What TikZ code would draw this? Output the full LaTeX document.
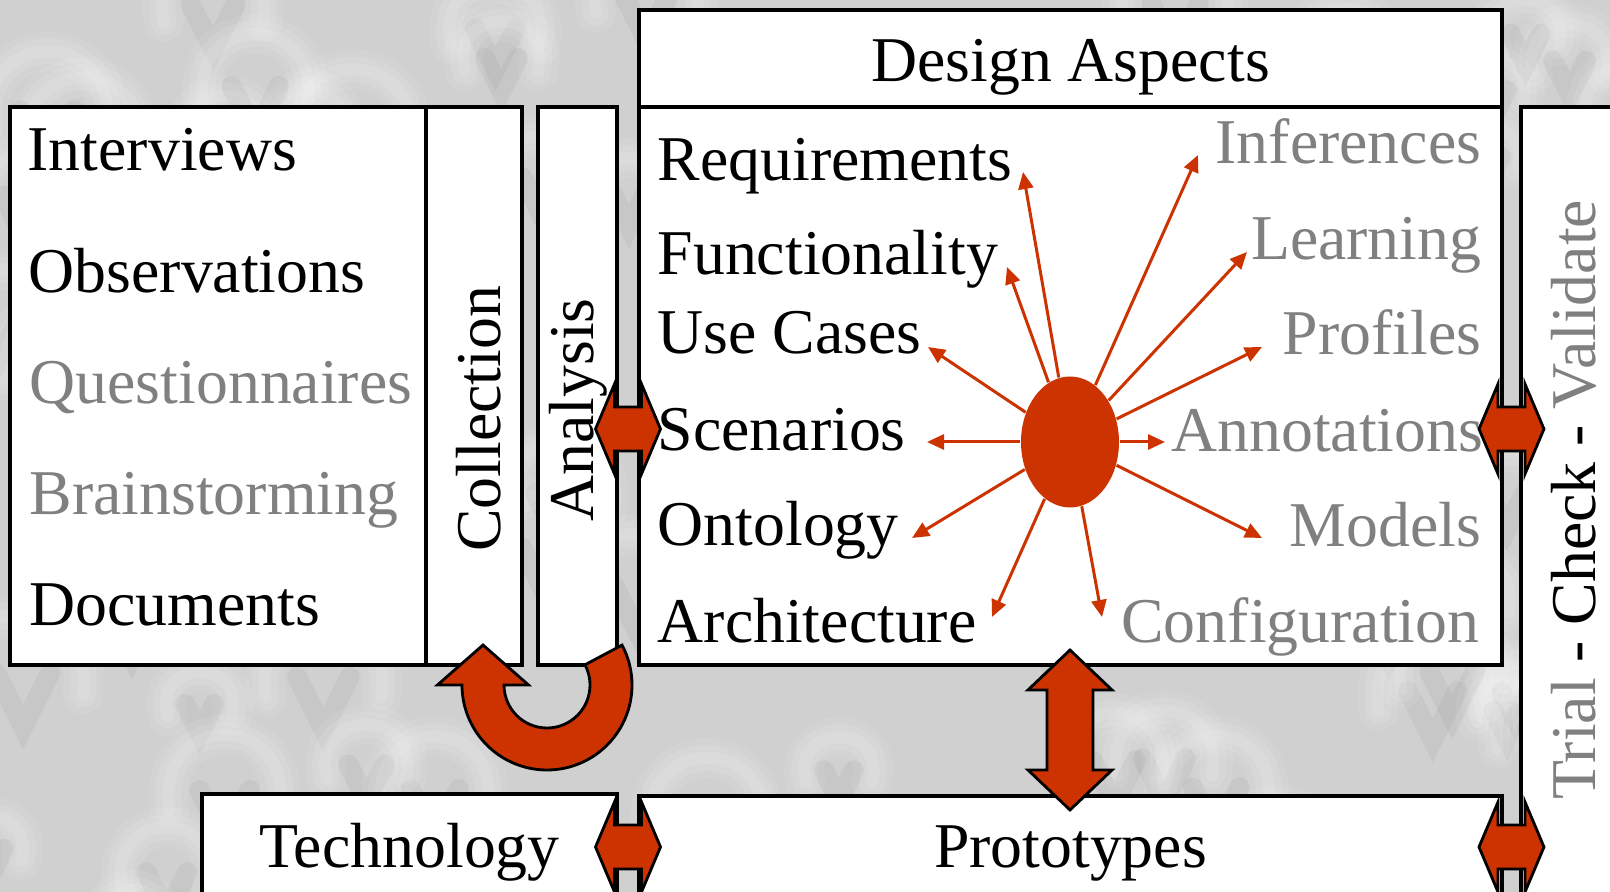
\documentclass[tikz,border=0pt]{standalone}
\usepackage{fontspec}
\setmainfont{Liberation Serif}
\usetikzlibrary{positioning}
\usetikzlibrary{calc,arrows.meta}
\usetikzlibrary{shapes.geometric}

\definecolor{rust}{RGB}{204,51,0}
\definecolor{fadedtext}{RGB}{128,128,128}
\definecolor{wall}{RGB}{208,208,208}

\tikzset{
    box/.style={draw=black,fill=white,line width=0.9pt},
    item/.style={inner sep=0pt,font=\fontsize{18.15}{21}\selectfont},
    faded/.style={item,text=fadedtext},
    spoke/.style={draw=rust,line width=0.85pt,-{Triangle[length=0.17cm,width=0.15cm]}},
    fatarrow/.style={fill=rust,draw=black,line width=0.8pt,line join=miter},
    ridge/.style={white,line cap=round},
}

\begin{document}
\begin{tikzpicture}
    \useasboundingbox (0,0) rectangle (16.10,8.92);
    \clip (0,0) rectangle (16.10,8.92);

    % wrinkled backdrop, soft ridges drawn in layers
    \fill[wall] (0,0) rectangle (16.10,8.92);
    \pgfmathsetseed{17}
    \foreach \i in {1,...,90}{
        \pgfmathsetmacro{\px}{rnd*17-0.8}
        \pgfmathsetmacro{\py}{rnd*9.6-0.8}
        \pgfmathsetmacro{\sz}{0.5+0.6*rnd}
        \foreach \w/\o in {0.40/0.08,0.26/0.10,0.12/0.12}
            \draw[ridge,opacity=\o,line width=\w cm]
                (\px,\py) .. controls +(-0.15,\sz) and +(0.15,\sz) .. +(1.1*\sz,0);
        \draw[black,opacity=0.04,line width=0.2cm,line cap=round]
            (\px+0.3*\sz,\py+0.2*\sz) -- +(0.25*\sz,-0.5*\sz) -- +(0.5*\sz,0);
    }

    % box corners
    \coordinate(srcSW) at (0.10,2.27);
    \coordinate(srcNE) at (4.26,7.85);
    \coordinate(colNE) at (5.22,7.85);
    \coordinate(anaSW) at (5.38,2.27);
    \coordinate(anaNE) at (6.17,7.85);
    \coordinate(desSW) at (6.39,2.27);
    \coordinate(desNE) at (15.02,7.85);
    \coordinate(hdNE) at (15.02,8.82);
    \coordinate(triSW) at (15.21,-0.20);
    \coordinate(triNE) at (16.40,7.85);
    \coordinate(tecSW) at (2.02,-0.20);
    \coordinate(tecNE) at (6.17,0.98);
    \coordinate(proSW) at (6.39,-0.20);
    \coordinate(proNE) at (15.02,0.96);

    \draw[box] (srcSW) rectangle (srcNE);
    \draw[box] (srcSW -| srcNE) rectangle (colNE);
    \draw[box] (anaSW) rectangle (anaNE);
    \draw[box] (desSW |- desNE) rectangle (hdNE);
    \draw[box] (desSW) rectangle (desNE);
    \draw[box] (triSW) rectangle (triNE);
    \draw[box] (tecSW) rectangle (tecNE);
    \draw[box] (proSW) rectangle (proNE);

    % sources
    \node[item,anchor=base west] (interviews) at (0.27,7.21) {Interviews};
    \node[item,anchor=base west] (observations) at (0.28,5.99) {Observations};
    \node[faded,anchor=base west] (questionnaires) at (0.29,4.88) {Questionnaires};
    \node[faded,anchor=base west] (brainstorming) at (0.29,3.77) {Brainstorming};
    \node[item,anchor=base west] (documents) at (0.29,2.66) {Documents};
    \node[item,rotate=90,anchor=base] (collection) at (5.00,4.73) {Collection};
    \node[item,rotate=90,anchor=base] (analysis) at (5.93,4.82) {Analysis};

    % design aspects
    \node[item,anchor=base] (aspects) at (10.705,8.10) {Design Aspects};
    \node[item,anchor=base west] (requirements) at (6.57,7.11) {Requirements};
    \node[item,anchor=base west] (functionality) at (6.57,6.17) {Functionality};
    \node[item,anchor=base west] (usecases) at (6.57,5.38) {Use Cases};
    \node[item,anchor=base west] (scenarios) at (6.57,4.41) {Scenarios};
    \node[item,anchor=base west] (ontology) at (6.57,3.46) {Ontology};
    \node[item,anchor=base west] (architecture) at (6.57,2.49) {Architecture};
    \node[faded,anchor=base east] (inferences) at (14.82,7.28) {Inferences};
    \node[faded,anchor=base east] (learning) at (14.82,6.32) {Learning};
    \node[faded,anchor=base east] (profiles) at (14.82,5.37) {Profiles};
    \node[faded,anchor=base east] (annotations) at (14.84,4.40) {Annotations};
    \node[faded,anchor=base east] (models) at (14.82,3.45) {Models};
    \node[faded,anchor=base east] (configuration) at (14.80,2.49) {Configuration};

    \node[item,anchor=base] (technology) at (4.095,0.24) {Technology};
    \node[item,anchor=base] (prototypes) at (10.705,0.24) {Prototypes};
    \node[item,rotate=90,anchor=base] (trial) at (15.95,3.92)
        {\textcolor{fadedtext}{Trial} - Check - \textcolor{fadedtext}{Validate}};

    % hub and its spokes
    \node[ellipse,fill=rust,minimum width=0.98cm,minimum height=1.31cm,inner sep=0pt] (hub) at (10.70,4.50) {};
    \coordinate(tReq) at (10.23,7.20);
    \coordinate(tFun) at (10.07,6.25);
    \coordinate(tUse) at (9.28,5.45);
    \coordinate(tSce) at (9.27,4.50);
    \coordinate(tOnt) at (9.12,3.54);
    \coordinate(tArc) at (9.92,2.75);
    \coordinate(tCfg) at (11.02,2.75);
    \coordinate(tMod) at (12.62,3.54);
    \coordinate(tAnn) at (11.65,4.50);
    \coordinate(tPro) at (12.62,5.45);
    \coordinate(tLrn) at (12.47,6.40);
    \coordinate(tInf) at (11.98,7.37);
    \foreach \t in {tReq,tFun,tUse,tSce,tOnt,tArc,tCfg,tMod,tAnn,tPro,tLrn,tInf}
        \draw[spoke] (hub) -- (\t);

    % two-headed block arrows in the gaps
    \foreach \x/\y in {6.28/4.63,15.115/4.63,6.28/0.45,15.115/0.45}
        \draw[fatarrow] (\x,\y) ++(-0.325,0) -- ++(0.19,0.45) -- ++(0,-0.23) -- ++(0.27,0)
            -- ++(0,0.23) -- ++(0.19,-0.45) -- ++(-0.19,-0.45) -- ++(0,0.23)
            -- ++(-0.27,0) -- ++(0,-0.23) -- cycle;
    \draw[fatarrow] ($(hub |- desSW)+(0,0.15)$) -- ++(0.42,-0.40) -- ++(-0.19,0) -- ++(0,-0.80)
        -- ++(0.19,0) -- ++(-0.42,-0.40) -- ++(-0.42,0.40) -- ++(0.19,0)
        -- ++(0,0.80) -- ++(-0.19,0) -- cycle;

    % turn-around arrow under collection / analysis
    \coordinate(turn) at (5.47,2.07);
    \draw[fatarrow] ($(turn)+(180:0.85)$) arc[start angle=180,end angle=388,radius=0.85]
        -- ($(turn)+(28:0.43)$) arc[start angle=28,end angle=-180,radius=0.43]
        -- ++(0.245,0) -- ($(turn)+(-0.64,0.40)$) -- ($(turn)+(-1.095,0)$) -- cycle;
\end{tikzpicture}
\end{document}
